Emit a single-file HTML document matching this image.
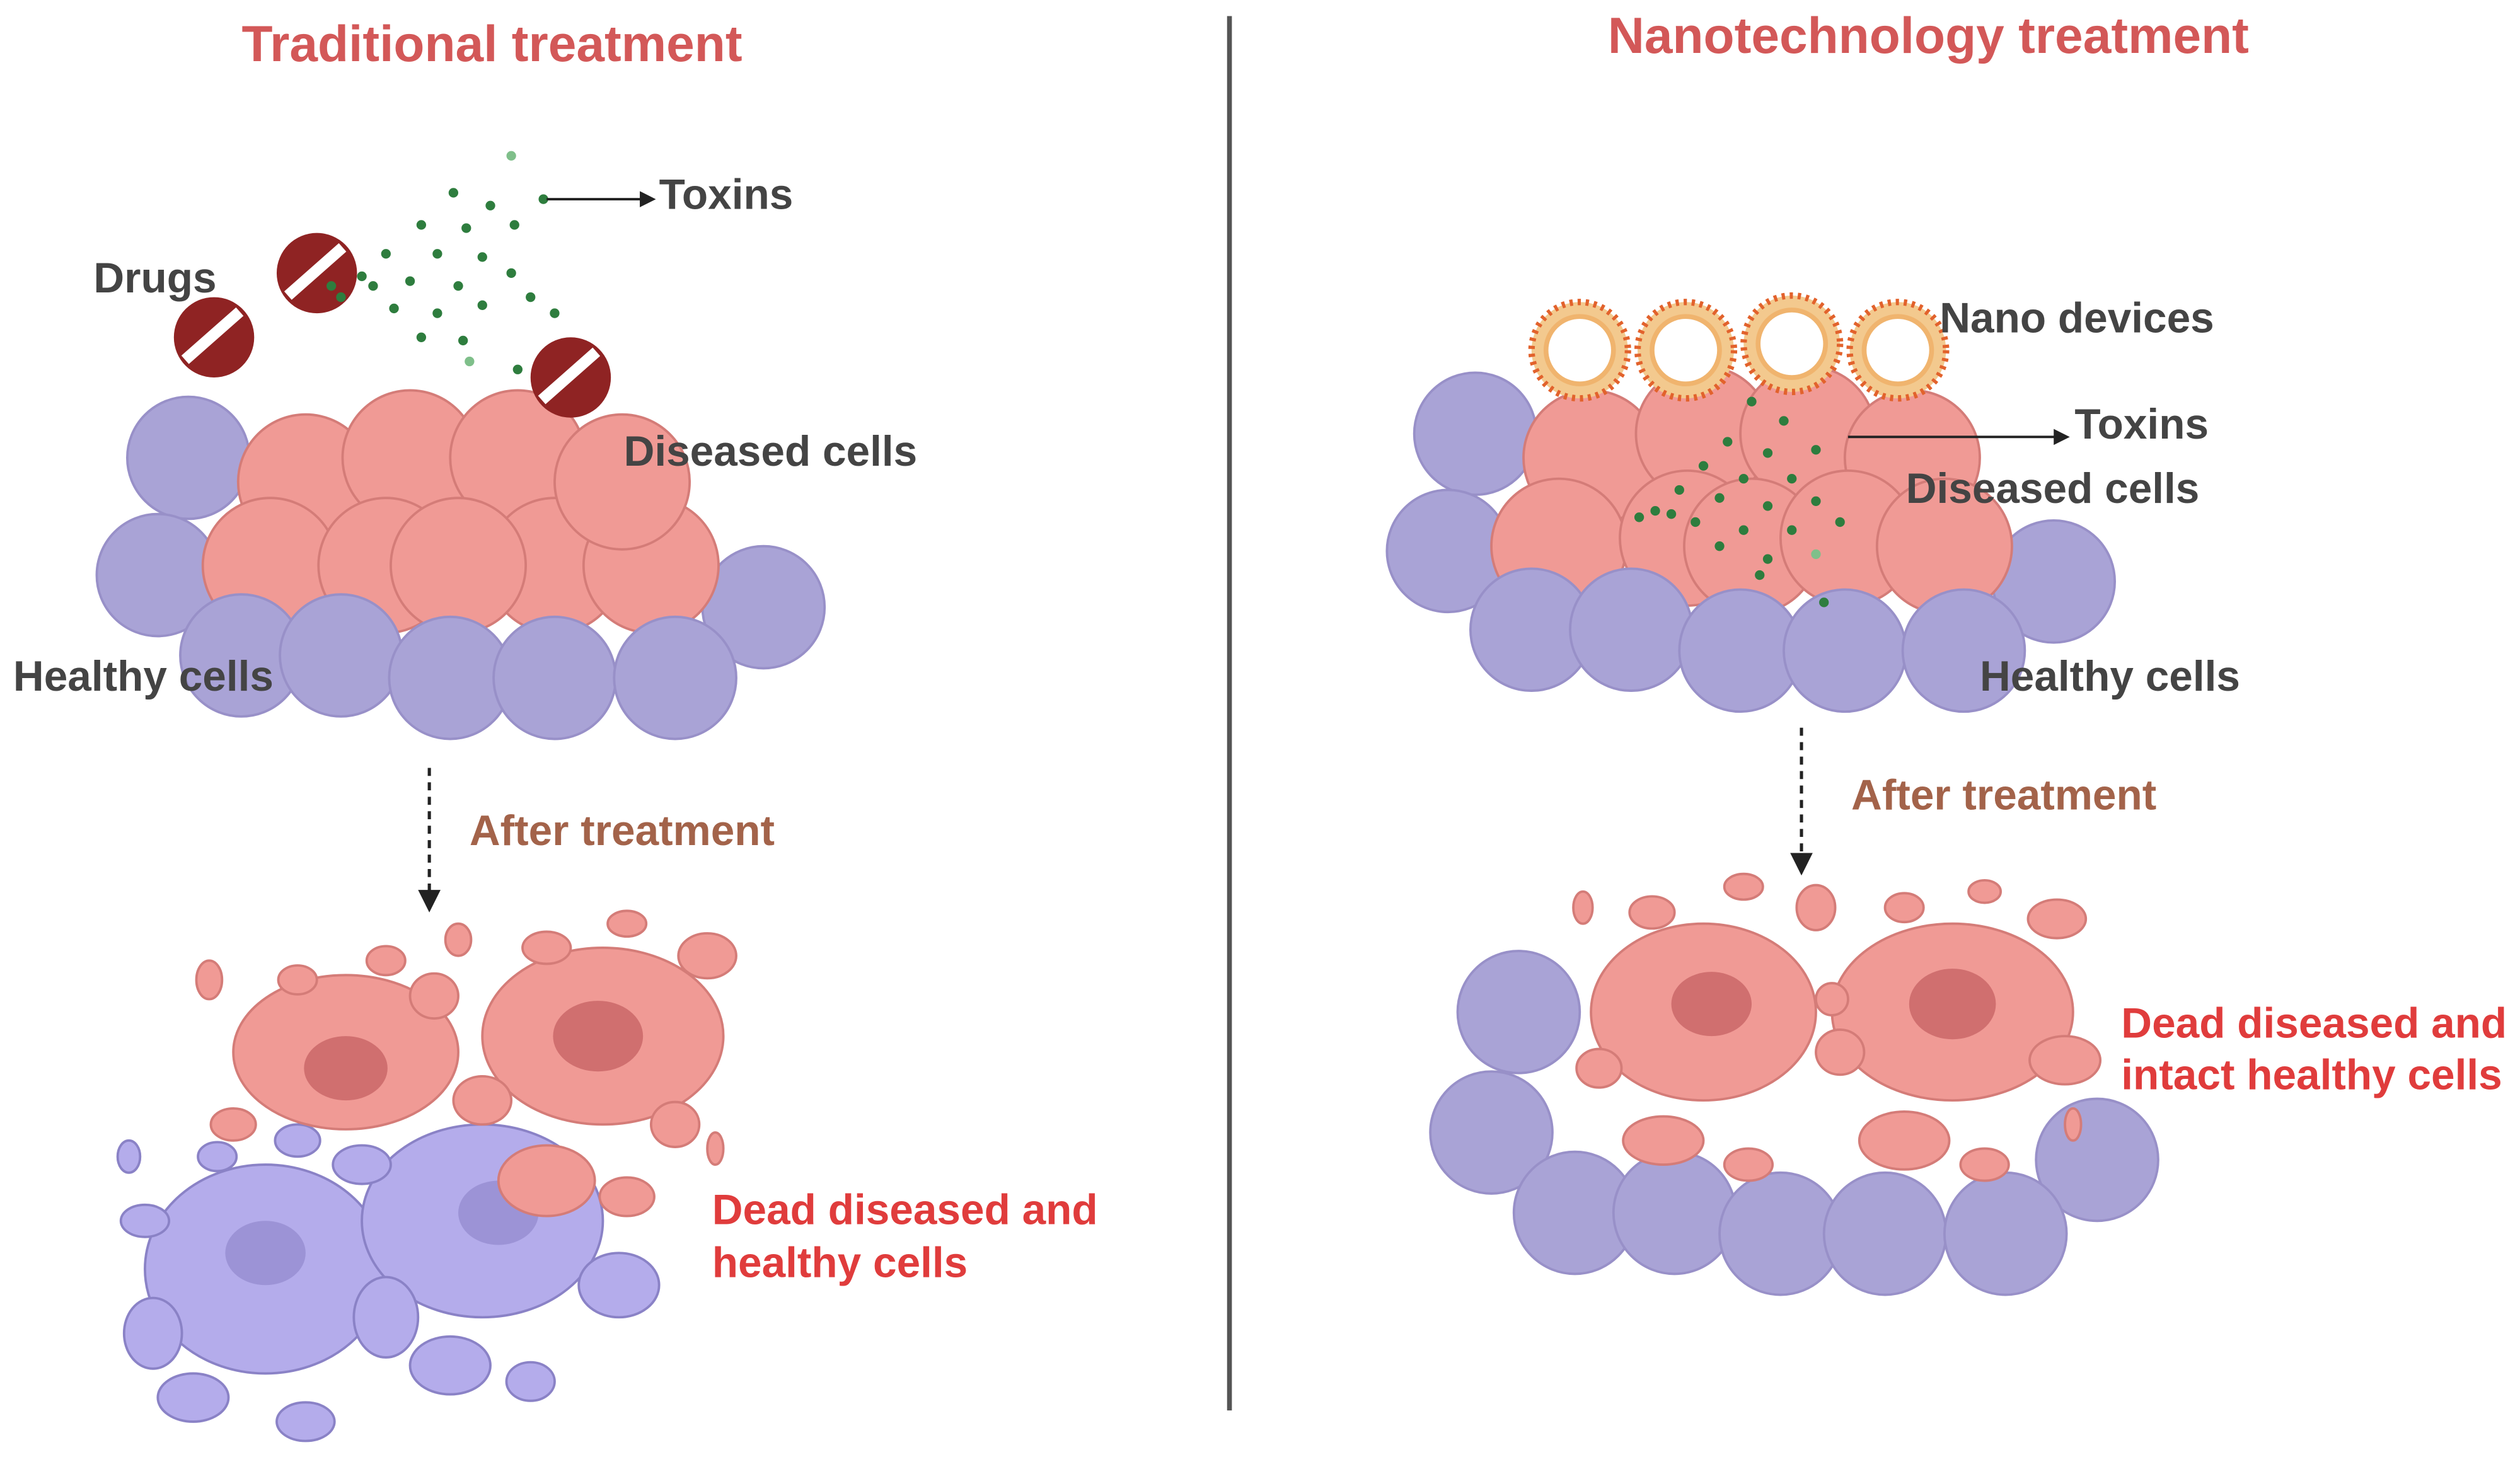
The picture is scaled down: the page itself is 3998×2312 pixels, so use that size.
<!DOCTYPE html>
<html><head><meta charset="utf-8"><style>
html,body{margin:0;padding:0;background:#fff;}
svg{display:block;}
text{font-family:"Liberation Sans",sans-serif;font-weight:bold;}
</style></head><body>
<svg width="3998" height="2312" viewBox="0 0 1568 907" xmlns="http://www.w3.org/2000/svg">
<defs>
<g id="drug"><circle r="25" fill="#8f2323"/><line x1="-18" y1="14" x2="16" y2="-16" stroke="#fff" stroke-width="7"/></g>
<g id="nano"><circle r="30" fill="#f3c98e" stroke="#e2622c" stroke-width="4" stroke-dasharray="2 3"/><circle r="21" fill="#fff" stroke="#f0b46e" stroke-width="3"/></g>
</defs>
<rect width="1568" height="907" fill="#fff"/>
<line x1="765" y1="10" x2="765" y2="878" stroke="#555" stroke-width="3"/>
<text x="306" y="38" font-size="31.5" fill="#d35858" text-anchor="middle">Traditional treatment</text>
<text x="1200" y="33" font-size="31.5" fill="#d35858" text-anchor="middle">Nanotechnology treatment</text>

<!-- LEFT cluster -->
<g fill="#a9a3d6" stroke="#9890c8" stroke-width="1.5">
<circle cx="117" cy="285" r="38"/><circle cx="98" cy="358" r="38"/><circle cx="475" cy="378" r="38"/>
</g>
<g fill="#f09a95" stroke="#d47c78" stroke-width="1.5">
<circle cx="190" cy="300" r="42"/><circle cx="255" cy="285" r="42"/><circle cx="322" cy="285" r="42"/>
<circle cx="168" cy="352" r="42"/><circle cx="240" cy="352" r="42"/><circle cx="345" cy="352" r="42"/><circle cx="405" cy="352" r="42"/>
<circle cx="285" cy="352" r="42"/><circle cx="387" cy="300" r="42"/>
</g>
<g fill="#a9a3d6" stroke="#9890c8" stroke-width="1.5">
<circle cx="150" cy="408" r="38"/><circle cx="212" cy="408" r="38"/><circle cx="280" cy="422" r="38"/><circle cx="345" cy="422" r="38"/><circle cx="420" cy="422" r="38"/>
</g>
<use href="#drug" x="133" y="210"/><use href="#drug" x="197" y="170"/><use href="#drug" x="355" y="235"/>
<g fill="#2e7d3e">
<circle cx="318" cy="97" r="3" fill="#7fbf8a"/><circle cx="282" cy="120" r="3"/><circle cx="305" cy="128" r="3"/><circle cx="338" cy="124" r="3"/>
<circle cx="262" cy="140" r="3"/><circle cx="290" cy="142" r="3"/><circle cx="320" cy="140" r="3"/><circle cx="240" cy="158" r="3"/>
<circle cx="272" cy="158" r="3"/><circle cx="300" cy="160" r="3"/><circle cx="225" cy="172" r="3"/><circle cx="255" cy="175" r="3"/>
<circle cx="285" cy="178" r="3"/><circle cx="318" cy="170" r="3"/><circle cx="212" cy="185" r="3"/><circle cx="245" cy="192" r="3"/>
<circle cx="272" cy="195" r="3"/><circle cx="300" cy="190" r="3"/><circle cx="330" cy="185" r="3"/><circle cx="262" cy="210" r="3"/>
<circle cx="288" cy="212" r="3"/><circle cx="345" cy="195" r="3"/><circle cx="232" cy="178" r="3"/><circle cx="292" cy="225" r="3" fill="#7fbf8a"/>
<circle cx="322" cy="230" r="3"/><circle cx="206" cy="178" r="3"/>
</g>
<line x1="340" y1="124" x2="400" y2="124" stroke="#222" stroke-width="1.5"/><polygon points="408,124 398,119 398,129" fill="#222"/>
<g font-size="26.5" fill="#444">
<text x="410" y="130">Toxins</text><text x="58" y="182">Drugs</text>
<text x="388" y="290">Diseased cells</text><text x="8" y="430">Healthy cells</text>
</g>
<line x1="267" y1="478" x2="267" y2="555" stroke="#222" stroke-width="2" stroke-dasharray="5 4"/><polygon points="267,568 260,554 274,554" fill="#222"/>
<text x="292" y="526" font-size="26.5" fill="#a3634a">After treatment</text>

<!-- LEFT dead cells -->
<g fill="#b4aceb" stroke="#8a82c6" stroke-width="1.5">
<ellipse cx="165" cy="790" rx="75" ry="65"/><ellipse cx="300" cy="760" rx="75" ry="60"/>
<ellipse cx="95" cy="830" rx="18" ry="22"/><ellipse cx="120" cy="870" rx="22" ry="15"/><ellipse cx="190" cy="885" rx="18" ry="12"/>
<ellipse cx="280" cy="850" rx="25" ry="18"/><ellipse cx="330" cy="860" rx="15" ry="12"/><ellipse cx="385" cy="800" rx="25" ry="20"/>
<ellipse cx="240" cy="820" rx="20" ry="25"/><ellipse cx="90" cy="760" rx="15" ry="10"/><ellipse cx="135" cy="720" rx="12" ry="9"/>
<ellipse cx="185" cy="710" rx="14" ry="10"/><ellipse cx="225" cy="725" rx="18" ry="12"/><ellipse cx="80" cy="720" rx="7" ry="10"/>
</g>
<g fill="#9c93d6"><ellipse cx="165" cy="780" rx="25" ry="20"/><ellipse cx="310" cy="755" rx="25" ry="20"/></g>
<g fill="#f09a95" stroke="#d47c78" stroke-width="1.5">
<ellipse cx="215" cy="655" rx="70" ry="48"/><ellipse cx="375" cy="645" rx="75" ry="55"/>
<ellipse cx="340" cy="735" rx="30" ry="22"/><ellipse cx="390" cy="745" rx="17" ry="12"/><ellipse cx="300" cy="685" rx="18" ry="15"/>
<ellipse cx="145" cy="700" rx="14" ry="10"/><ellipse cx="130" cy="610" rx="8" ry="12"/><ellipse cx="185" cy="610" rx="12" ry="9"/>
<ellipse cx="240" cy="598" rx="12" ry="9"/><ellipse cx="285" cy="585" rx="8" ry="10"/><ellipse cx="340" cy="590" rx="15" ry="10"/>
<ellipse cx="390" cy="575" rx="12" ry="8"/><ellipse cx="440" cy="595" rx="18" ry="14"/><ellipse cx="420" cy="700" rx="15" ry="14"/>
<ellipse cx="445" cy="715" rx="5" ry="10"/><ellipse cx="270" cy="620" rx="15" ry="14"/>
</g>
<g fill="#d06f6f"><ellipse cx="215" cy="665" rx="26" ry="20"/><ellipse cx="372" cy="645" rx="28" ry="22"/></g>
<g font-size="26.5" fill="#e03c3c"><text x="443" y="762">Dead diseased and</text><text x="443" y="795">healthy cells</text></g>

<!-- RIGHT cluster -->
<g fill="#a9a3d6" stroke="#9890c8" stroke-width="1.5">
<circle cx="918" cy="270" r="38"/><circle cx="901" cy="343" r="38"/><circle cx="1278" cy="362" r="38"/>
</g>
<g fill="#f09a95" stroke="#d47c78" stroke-width="1.5">
<circle cx="990" cy="285" r="42"/><circle cx="1060" cy="270" r="42"/><circle cx="1125" cy="270" r="42"/><circle cx="1190" cy="285" r="42"/>
<circle cx="970" cy="340" r="42"/><circle cx="1050" cy="335" r="42"/><circle cx="1090" cy="340" r="42"/><circle cx="1150" cy="335" r="42"/><circle cx="1210" cy="340" r="42"/>
</g>
<g fill="#a9a3d6" stroke="#9890c8" stroke-width="1.5">
<circle cx="953" cy="392" r="38"/><circle cx="1015" cy="392" r="38"/><circle cx="1083" cy="405" r="38"/><circle cx="1148" cy="405" r="38"/><circle cx="1222" cy="405" r="38"/>
</g>
<use href="#nano" x="983" y="218"/><use href="#nano" x="1049" y="218"/><use href="#nano" x="1115" y="214"/><use href="#nano" x="1181" y="218"/>
<g fill="#2e7d3e">
<circle cx="1090" cy="250" r="3"/><circle cx="1110" cy="262" r="3"/><circle cx="1075" cy="275" r="3"/><circle cx="1100" cy="282" r="3"/>
<circle cx="1130" cy="280" r="3"/><circle cx="1060" cy="290" r="3"/><circle cx="1085" cy="298" r="3"/><circle cx="1115" cy="298" r="3"/>
<circle cx="1045" cy="305" r="3"/><circle cx="1070" cy="310" r="3"/><circle cx="1100" cy="315" r="3"/><circle cx="1130" cy="312" r="3"/>
<circle cx="1030" cy="318" r="3"/><circle cx="1055" cy="325" r="3"/><circle cx="1085" cy="330" r="3"/><circle cx="1115" cy="330" r="3"/>
<circle cx="1145" cy="325" r="3"/><circle cx="1020" cy="322" r="3"/><circle cx="1070" cy="340" r="3"/><circle cx="1100" cy="348" r="3"/>
<circle cx="1130" cy="345" r="3" fill="#7fbf8a"/><circle cx="1095" cy="358" r="3"/><circle cx="1135" cy="375" r="3"/><circle cx="1040" cy="320" r="3"/>
</g>
<line x1="1150" y1="272" x2="1280" y2="272" stroke="#222" stroke-width="1.5"/><polygon points="1288,272 1278,267 1278,277" fill="#222"/>
<g font-size="26.5" fill="#444">
<text x="1207" y="207">Nano devices</text><text x="1291" y="273">Toxins</text>
<text x="1186" y="313">Diseased cells</text><text x="1232" y="430">Healthy cells</text>
</g>
<line x1="1121" y1="453" x2="1121" y2="532" stroke="#222" stroke-width="2" stroke-dasharray="5 4"/><polygon points="1121,545 1114,531 1128,531" fill="#222"/>
<text x="1152" y="504" font-size="26.5" fill="#a3634a">After treatment</text>

<!-- RIGHT dead -->
<g fill="#a9a3d6" stroke="#9890c8" stroke-width="1.5">
<circle cx="945" cy="630" r="38"/><circle cx="928" cy="705" r="38"/><circle cx="1305" cy="722" r="38"/>
<circle cx="980" cy="755" r="38"/><circle cx="1042" cy="755" r="38"/><circle cx="1108" cy="768" r="38"/><circle cx="1173" cy="768" r="38"/><circle cx="1248" cy="768" r="38"/>
</g>
<g fill="#f09a95" stroke="#d47c78" stroke-width="1.5">
<ellipse cx="1060" cy="630" rx="70" ry="55"/><ellipse cx="1215" cy="630" rx="75" ry="55"/>
<ellipse cx="1035" cy="710" rx="25" ry="15"/><ellipse cx="1088" cy="725" rx="15" ry="10"/><ellipse cx="1185" cy="710" rx="28" ry="18"/>
<ellipse cx="1235" cy="725" rx="15" ry="10"/><ellipse cx="995" cy="665" rx="14" ry="12"/><ellipse cx="1145" cy="655" rx="15" ry="14"/>
<ellipse cx="1285" cy="660" rx="22" ry="15"/><ellipse cx="985" cy="565" rx="6" ry="10"/><ellipse cx="1028" cy="568" rx="14" ry="10"/>
<ellipse cx="1085" cy="552" rx="12" ry="8"/><ellipse cx="1130" cy="565" rx="12" ry="14"/><ellipse cx="1185" cy="565" rx="12" ry="9"/>
<ellipse cx="1235" cy="555" rx="10" ry="7"/><ellipse cx="1280" cy="572" rx="18" ry="12"/><ellipse cx="1140" cy="622" rx="10" ry="10"/>
<ellipse cx="1290" cy="700" rx="5" ry="10"/>
</g>
<g fill="#d06f6f"><ellipse cx="1065" cy="625" rx="25" ry="20"/><ellipse cx="1215" cy="625" rx="27" ry="22"/></g>
<g font-size="26.5" fill="#e03c3c"><text x="1320" y="646">Dead diseased and</text><text x="1320" y="678">intact healthy cells</text></g>
</svg>
</body></html>
